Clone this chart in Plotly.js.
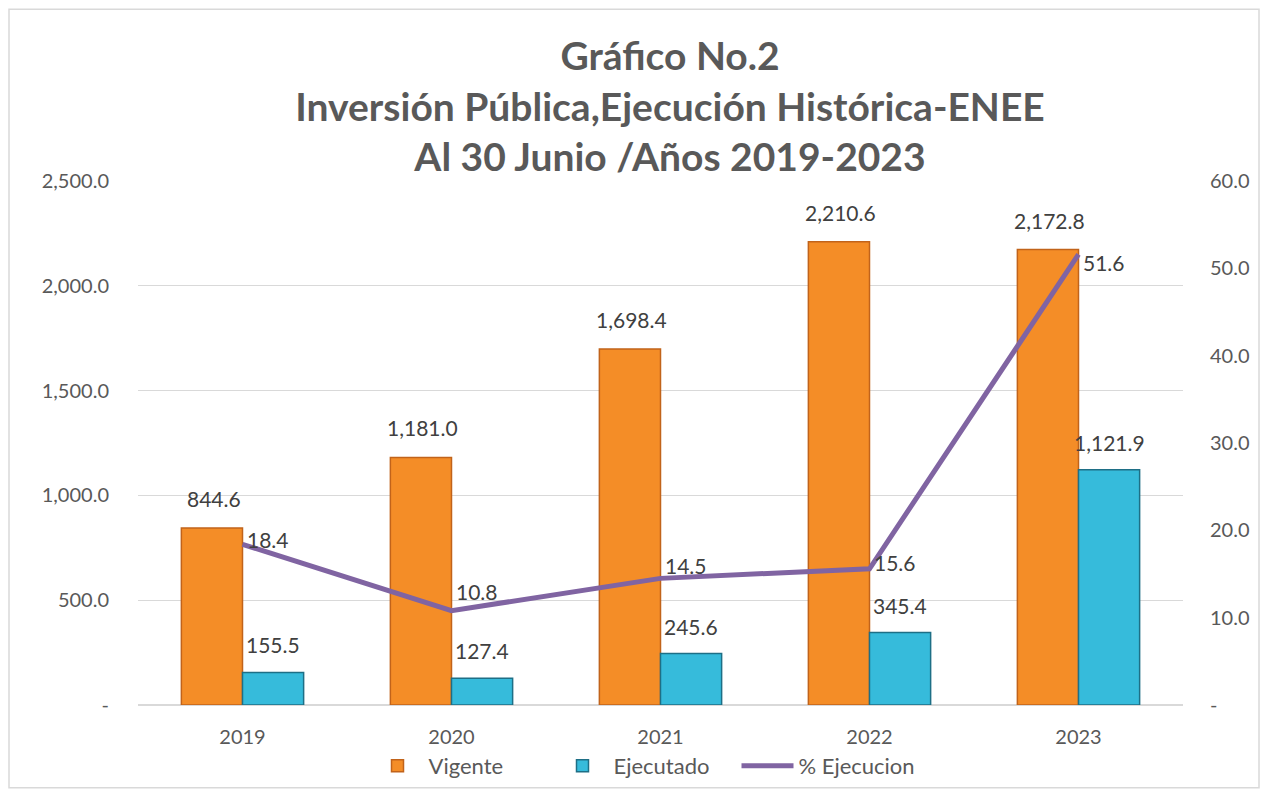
<!DOCTYPE html>
<html>
<head>
<meta charset="utf-8">
<script src="https://cdn.plot.ly/plotly-3.0.1.min.js"></script>
<style>
  html, body { margin: 0; padding: 0; background: #ffffff; }
  #chart { width: 1268px; height: 798px; }
</style>
</head>
<body>
<div id="chart"></div>
<script>
const years = ['2019', '2020', '2021', '2022', '2023'];
const vigente = [844.6, 1181.0, 1698.4, 2210.6, 2172.8];
const ejecutado = [155.5, 127.4, 245.6, 345.4, 1121.9];
const pctEjecucion = [18.4, 10.8, 14.5, 15.6, 51.6];
const leftTicks = [0, 500, 1000, 1500, 2000, 2500];
const leftTickText = ['-', '500.0', '1,000.0', '1,500.0', '2,000.0', '2,500.0'];
const rightTicks = [0, 10, 20, 30, 40, 50, 60];
const rightTickText = ['-', '10.0', '20.0', '30.0', '40.0', '50.0', '60.0'];

// label placement (style only)
const lineLabelShiftY = [5, 19, 13, 6, -8];

const fmt = v => v.toLocaleString('en-US', {minimumFractionDigits: 1, maximumFractionDigits: 1});

const FONT = 'Lato, "Open Sans", sans-serif';
const W = 1268, H = 798;
const M = {l: 138, r: 85, t: 181, b: 92};
const pw = W - M.l - M.r, ph = H - M.t - M.b;
const px = x => (x - M.l) / pw;
const py = y => (H - M.b - y) / ph;
const BARGAP = 0.415;
const barHalf = (pw / years.length) * (1 - BARGAP) / 4;

const labelFont = {family: FONT, size: 21, color: '#404040'};

const traces = [
  {
    type: 'bar', name: 'Vigente', x: years, y: vigente,
    marker: {color: '#F48D27', line: {color: '#C1631A', width: 1.5}},
    offsetgroup: 'a'
  },
  {
    type: 'bar', name: 'Ejecutado', x: years, y: ejecutado,
    marker: {color: '#36BBDB', line: {color: '#1E6F86', width: 1.5}},
    offsetgroup: 'b'
  },
  {
    type: 'scatter', mode: 'lines', name: '% Ejecucion', x: years, y: pctEjecucion,
    yaxis: 'y2', cliponaxis: false,
    line: {color: '#8064A2', width: 5}
  }
];

const annotations = [];
years.forEach((yr, i) => {
  annotations.push({x: i, y: vigente[i], xref: 'x', yref: 'y', text: fmt(vigente[i]),
    showarrow: false, xanchor: 'center', yanchor: 'bottom', xshift: -barHalf + 2, yshift: 15, font: labelFont});
  annotations.push({x: i, y: ejecutado[i], xref: 'x', yref: 'y', text: fmt(ejecutado[i]),
    showarrow: false, xanchor: 'center', yanchor: 'bottom', xshift: barHalf, yshift: 13, font: labelFont});
  annotations.push({x: i, y: pctEjecucion[i], xref: 'x', yref: 'y2', text: fmt(pctEjecucion[i]),
    showarrow: false, xanchor: 'left', yanchor: 'middle', xshift: 2, yshift: lineLabelShiftY[i], font: labelFont});
});

const layout = {
  width: W, height: H,
  margin: M,
  paper_bgcolor: '#ffffff', plot_bgcolor: '#ffffff',
  font: {family: FONT, color: '#595959'},
  title: {
    text: 'Gráfico No.2<br>Inversión Pública,Ejecución Histórica-ENEE<br>Al 30 Junio /Años 2019-2023',
    font: {family: FONT, size: 39, color: '#595959', weight: 'bold'},
    x: px(670), xanchor: 'center', xref: 'paper',
    y: 1 - 70 / H, yanchor: 'middle'
  },
  barmode: 'group', bargap: BARGAP, bargroupgap: 0,
  xaxis: {
    type: 'category', range: [-0.5, years.length - 0.5], autorange: false,
    showgrid: false, showline: false, zeroline: false,
    ticks: '', tickfont: {size: 20, color: '#595959'}, ticklabelstandoff: 18
  },
  yaxis: {
    range: [0, 2500], autorange: false, tickvals: leftTicks, ticktext: leftTickText,
    showgrid: true, gridcolor: '#D9D9D9', gridwidth: 1.2, zeroline: false,
    tickfont: {size: 20, color: '#595959'}, ticklabelstandoff: 28, showline: false
  },
  yaxis2: {
    overlaying: 'y', side: 'right', range: [0, 60], autorange: false,
    tickvals: rightTicks, ticktext: rightTickText,
    showgrid: false, zeroline: false,
    tickfont: {size: 20, color: '#595959'}, ticklabelstandoff: 26
  },
  legend: {
    orientation: 'h', x: px(644), xanchor: 'center', y: py(766), yanchor: 'middle',
    font: {size: 22, color: '#595959'}, traceorder: 'normal', itemwidth: 52,
    entrywidth: 118, entrywidthmode: 'pixels'
  },
  showlegend: true,
  annotations: annotations,
  shapes: [
    {type: 'rect', xref: 'paper', yref: 'paper',
     x0: px(9), x1: px(1259), y0: py(789), y1: py(9),
     line: {color: '#D9D9D9', width: 1.5}, fillcolor: 'rgba(0,0,0,0)', layer: 'below'},
    {type: 'line', xref: 'paper', yref: 'paper', x0: 0, x1: 1, y0: 0, y1: 0,
     line: {color: '#D9D9D9', width: 2}, layer: 'below'}
  ]
};

Plotly.newPlot('chart', traces, layout, {displayModeBar: false, staticPlot: true});
</script>
</body>
</html>
